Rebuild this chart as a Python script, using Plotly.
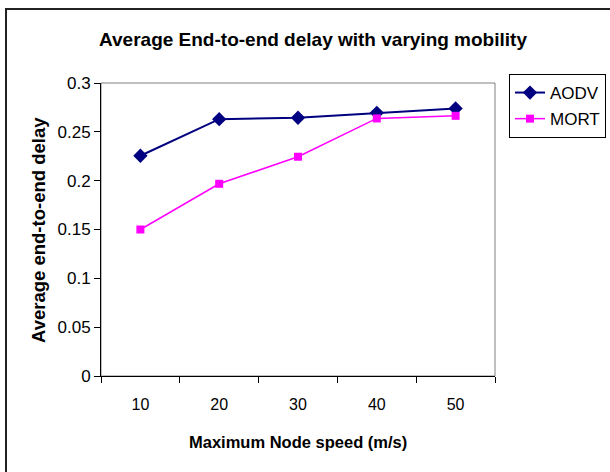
import plotly.graph_objects as go

speeds = [10, 20, 30, 40, 50]
aodv = [0.2255, 0.263, 0.2644, 0.2695, 0.274]
mort = [0.150, 0.1968, 0.2245, 0.2637, 0.2664]
y_ticks = [0, 0.05, 0.1, 0.15, 0.2, 0.25, 0.3]
y_ticklabels = ["0", "0.05", "0.1", "0.15", "0.2", "0.25", "0.3"]

W, H = 610, 472
ML, MR, MT, MB = 101, 115, 83, 96
PW = W - ML - MR
PH = H - MT - MB

def px_x(px):
    return (px - ML) / PW

def px_y(py):
    return (H - MB - py) / PH

FONT = "Liberation Sans, Arial, sans-serif"

fig = go.Figure()
fig.add_trace(go.Scatter(
    x=speeds, y=aodv, name="AODV", mode="lines+markers", legendgroup="a",
    line=dict(color="#000080", width=2),
    marker=dict(symbol="diamond", size=11, color="#000080"),
    cliponaxis=False,
))
fig.add_trace(go.Scatter(
    x=speeds, y=mort, name="MORT", mode="lines+markers", legendgroup="b",
    line=dict(color="#FF00FF", width=1.5),
    marker=dict(symbol="square", size=8, color="#FF00FF"),
    cliponaxis=False,
))

fig.update_layout(
    width=W, height=H,
    margin=dict(l=ML, r=MR, t=MT, b=MB, autoexpand=False),
    paper_bgcolor="white", plot_bgcolor="white",
    font=dict(family=FONT, size=16, color="black"),
    showlegend=True,
    legend=dict(
        x=px_x(509), y=px_y(74), xanchor="left", yanchor="top",
        bordercolor="black", borderwidth=1, bgcolor="white",
        font=dict(family=FONT, size=17, color="black"),
        tracegroupgap=1,
    ),
    xaxis=dict(
        range=[5, 55], tickmode="array", tickvals=speeds,
        ticktext=[str(s) for s in speeds], ticks="",
        ticklabelstandoff=14,
        showgrid=False, zeroline=False, showline=True,
        linecolor="black", linewidth=1,
        tickfont=dict(family=FONT, size=16),
        minor=dict(tick0=5, dtick=10, ticks="outside", ticklen=6,
                   tickcolor="black", tickwidth=1, showgrid=False),
        fixedrange=True,
    ),
    yaxis=dict(
        range=[0, 0.3], tickmode="array", tickvals=y_ticks,
        ticktext=y_ticklabels, ticks="outside", ticklen=6,
        tickcolor="black", showgrid=False, zeroline=False,
        showline=True, linecolor="black", linewidth=1,
        tickfont=dict(family=FONT, size=17),
        fixedrange=True,
    ),
    title=dict(
        text="<b>Average End-to-end delay with varying mobility</b>",
        x=px_x(313), xref="paper", xanchor="center",
        y=1 - 39 / H, yref="container", yanchor="middle",
        font=dict(family=FONT, size=19, color="black"),
    ),
)

# plot-area frame (gray top/right)
fig.add_shape(type="rect", xref="paper", yref="paper", x0=0, y0=0, x1=1, y1=1,
              line=dict(color="#808080", width=1), layer="below")
# outer chart border (left and top)
fig.add_shape(type="path", xref="paper", yref="paper",
              path=f"M {px_x(6)} {px_y(480)} L {px_x(6)} {px_y(9)} L {px_x(620)} {px_y(9)}",
              line=dict(color="#222222", width=2))

fig.add_annotation(text="<b>Maximum Node speed (m/s)</b>", xref="paper", yref="paper",
                   x=px_x(298), y=px_y(442), showarrow=False,
                   xanchor="center", yanchor="middle",
                   font=dict(family=FONT, size=16.5, color="black"))
fig.add_annotation(text="<b>Average end-to-end delay</b>", xref="paper", yref="paper",
                   x=px_x(38), y=px_y(230), showarrow=False, textangle=-90,
                   xanchor="center", yanchor="middle",
                   font=dict(family=FONT, size=18.5, color="black"))

fig.write_html("out.html")
